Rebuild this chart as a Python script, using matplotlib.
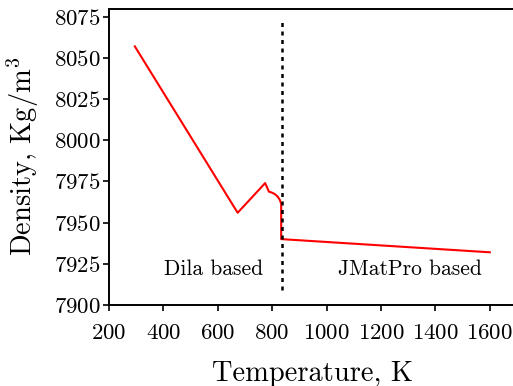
import matplotlib
matplotlib.use("Agg")
import matplotlib.pyplot as plt
import numpy as np

plt.rcParams['font.family'] = 'serif'
plt.rcParams['font.serif'] = ['cmr10']
plt.rcParams['mathtext.fontset'] = 'cm'
plt.rcParams['axes.formatter.use_mathtext'] = True

# density curve
temp = [295, 673, 774, 788, 798, 810, 820, 828, 833, 833, 1600]
density = [8057, 7956, 7974, 7968.8, 7968.3, 7967.3, 7965.8, 7963.8, 7961.5, 7940, 7932]

split_T = 835
xticks = [200, 400, 600, 800, 1000, 1200, 1400, 1600]
yticks = [7900, 7925, 7950, 7975, 8000, 8025, 8050, 8075]

W, H = 513, 386
fig = plt.figure(figsize=(W / 100, H / 100), dpi=100)
x0, y0 = 109 / W, (H - 305) / H
ax = fig.add_axes([x0, y0, (109 + 1500 / 200 * 54.4) / W - x0, (305 - 8.5) / H])

ax.plot(temp, density, color='red', linewidth=1.5)
ax.plot([split_T, split_T], [7909, 8073], color='black', linestyle=(0, (1.6, 1.8)), linewidth=1.8)

ax.text(584, 7921.5, 'Dila based', ha='center', va='center', fontsize=15.5)
ax.text(1305, 7921.5, 'JMatPro based', ha='center', va='center', fontsize=15.5)

ax.set_xlim(200, 1700)
ax.set_ylim(7900, 8080)
ax.set_xticks(xticks)
ax.set_yticks(yticks)
ax.tick_params(direction='out', length=4, width=1.2, labelsize=16.5, pad=2)
ax.tick_params(axis='x', pad=9)
for s in ax.spines.values():
    s.set_linewidth(1.4)
ax.spines['right'].set_visible(False)

ax.set_xlabel('Temperature, K', fontsize=20.5, labelpad=13)
ax.set_ylabel(r'Density, Kg/m$^3$', fontsize=20.5, labelpad=9)

fig.savefig('out.png', dpi=100)
